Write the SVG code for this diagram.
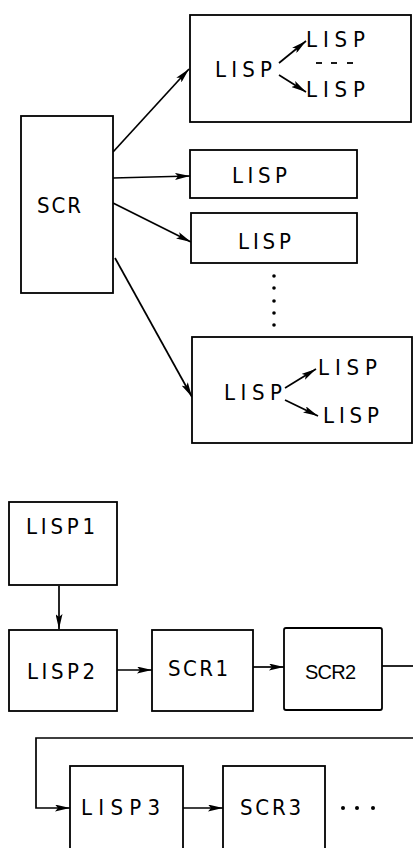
<svg xmlns="http://www.w3.org/2000/svg" width="413" height="848" viewBox="0 0 413 848">
<style>
.box{fill:#fff;stroke:#000;stroke-width:1.8}
.ln{fill:none;stroke:#000;stroke-width:1.7}
.t{font-family:"DejaVu Sans Condensed","DejaVu Sans","Liberation Sans",sans-serif;font-size:22px;fill:#000}
.t2{font-family:"Liberation Sans","DejaVu Sans",sans-serif;font-size:20px;fill:#000}
</style>
<defs>
<marker id="ah" viewBox="0 0 15 7" refX="15" refY="3.5" markerWidth="15" markerHeight="7" markerUnits="userSpaceOnUse" orient="auto">
<path d="M0,0 L15,3.5 L0,7 L3,3.5 Z" fill="#000"/>
</marker>
</defs>
<rect width="413" height="848" fill="#fff"/>
<g id="connectors">
<line class="ln" x1="113" y1="152" x2="189" y2="69" marker-end="url(#ah)"/>
<line class="ln" x1="113" y1="178" x2="190" y2="176" marker-end="url(#ah)"/>
<line class="ln" x1="113" y1="203" x2="191" y2="242" marker-end="url(#ah)"/>
<line class="ln" x1="115" y1="258" x2="192" y2="397" marker-end="url(#ah)"/>
<line class="ln" x1="59" y1="586" x2="59" y2="629" marker-end="url(#ah)"/>
<line class="ln" x1="117" y1="670" x2="152" y2="670" marker-end="url(#ah)"/>
<line class="ln" x1="253" y1="667" x2="284" y2="667" marker-end="url(#ah)"/>
<polyline class="ln" points="382,666 413,666"/>
<polyline class="ln" points="413,738 36,738 36,808 70,808" marker-end="url(#ah)"/>
<line class="ln" x1="183" y1="808" x2="223" y2="808" marker-end="url(#ah)"/>
<g fill="#000">
<circle cx="274" cy="276" r="1.8"/><circle cx="274" cy="288" r="1.8"/><circle cx="274" cy="301" r="1.8"/><circle cx="274" cy="313" r="1.8"/><circle cx="274" cy="325" r="1.8"/>
<circle cx="343" cy="808" r="2"/><circle cx="357" cy="808" r="2"/><circle cx="373" cy="808" r="2"/>
</g>
</g>
<g id="box-top">
<rect class="box" x="190" y="15" width="221" height="107"/>
<text class="t" x="215" y="77" textLength="57">LISP</text>
<text class="t" x="306" y="47" textLength="59">LISP</text>
<text class="t" x="306" y="97" textLength="59">LISP</text>
<line class="ln" x1="279" y1="63" x2="306" y2="41" marker-end="url(#ah)"/>
<line class="ln" x1="279" y1="75" x2="306" y2="92" marker-end="url(#ah)"/>
<g stroke="#000" stroke-width="1.8"><line x1="316" y1="63" x2="322" y2="63"/><line x1="331" y1="63" x2="337" y2="63"/><line x1="347" y1="63" x2="353" y2="63"/></g>
</g>
<g id="scr">
<rect class="box" x="21" y="116" width="92" height="177"/>
<text class="t" x="37" y="213" textLength="44">SCR</text>
</g>
<g id="lisp-a">
<rect class="box" x="190" y="150" width="167" height="48"/>
<text class="t" x="232" y="183" textLength="55">LISP</text>
</g>
<g id="lisp-b">
<rect class="box" x="191" y="213" width="166" height="50"/>
<text class="t" x="238" y="249" textLength="53">LISP</text>
</g>
<g id="box-bottom">
<rect class="box" x="192" y="337" width="220" height="106"/>
<text class="t" x="224" y="400" textLength="58">LISP</text>
<text class="t" x="318" y="375" textLength="59">LISP</text>
<text class="t" x="323" y="423" textLength="56">LISP</text>
<line class="ln" x1="285" y1="388" x2="316" y2="369" marker-end="url(#ah)"/>
<line class="ln" x1="285" y1="400" x2="318" y2="416" marker-end="url(#ah)"/>
</g>
<g id="lisp1">
<rect class="box" x="9" y="502" width="108" height="83"/>
<text class="t" x="26" y="534" textLength="69">LISP1</text>
</g>
<g id="lisp2">
<rect class="box" x="9" y="630" width="108" height="81"/>
<text class="t" x="27" y="679" textLength="68">LISP2</text>
</g>
<g id="scr1">
<rect class="box" x="152" y="630" width="101" height="81"/>
<text class="t" x="168" y="676" textLength="60">SCR1</text>
</g>
<g id="scr2">
<rect class="box" x="284" y="628" width="98" height="82" rx="2"/>
<text class="t2" x="305" y="679" textLength="51">SCR2</text>
</g>
<g id="lisp3">
<rect class="box" x="70" y="766" width="113" height="90"/>
<text class="t" x="81" y="815" textLength="79">LISP3</text>
</g>
<g id="scr3">
<rect class="box" x="223" y="766" width="102" height="90"/>
<text class="t" x="240" y="815" textLength="61">SCR3</text>
</g>
</svg>
